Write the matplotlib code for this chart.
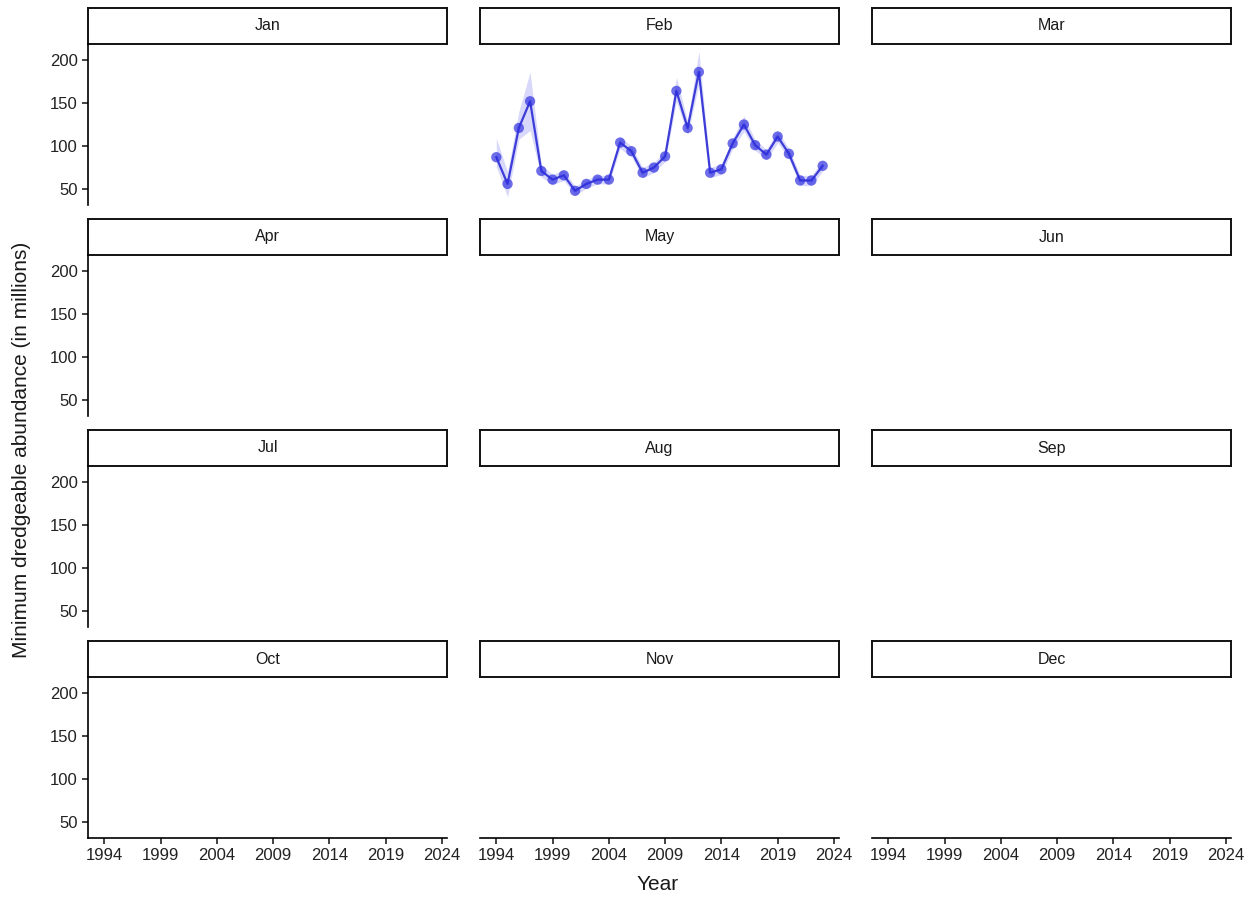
import matplotlib.pyplot as plt

plt.rcParams["font.family"] = ["Liberation Sans", "DejaVu Sans"]

# data (only February has observations)
months = ["Jan", "Feb", "Mar", "Apr", "May", "Jun",
          "Jul", "Aug", "Sep", "Oct", "Nov", "Dec"]
years = [1994, 1995, 1996, 1997, 1998, 1999, 2000, 2001, 2002, 2003,
         2004, 2005, 2006, 2007, 2008, 2009, 2010, 2011, 2012, 2013,
         2014, 2015, 2016, 2017, 2018, 2019, 2020, 2021, 2022, 2023]
feb_est = [87, 56, 121, 152, 71, 61, 66, 48, 56, 61,
           61, 104, 94, 69, 75, 88, 164, 121, 186, 69,
           73, 103, 125, 101, 90, 111, 91, 60, 60, 77]
feb_lo = [76, 41, 108, 118, 64, 55, 60, 43, 51, 56,
          56, 97, 88, 63, 69, 82, 152, 113, 172, 63,
          67, 97, 117, 95, 84, 104, 85, 54, 54, 71]
feb_hi = [109, 70, 140, 186, 78, 67, 72, 53, 61, 66,
          66, 111, 100, 75, 81, 94, 180, 129, 210, 75,
          79, 109, 135, 107, 96, 118, 97, 66, 66, 83]
x_breaks = [1994, 1999, 2004, 2009, 2014, 2019, 2024]
y_breaks = [50, 100, 150, 200]

W, H = 1260, 898
fig = plt.figure(figsize=(W / 100, H / 100), dpi=100)

def box(x, y, w, h):
    return [x / W, 1 - (y + h) / H, w / W, h / H]

col_x = [88, 480, 872]
row_y = [8, 219, 430, 641]
pw, sh, ph = 359, 36, 161
txt = "#222222"

for i, m in enumerate(months):
    r, c = divmod(i, 3)
    x0, y0 = col_x[c], row_y[r]

    # strip
    s = fig.add_axes(box(x0, y0, pw, sh))
    s.set_xticks([])
    s.set_yticks([])
    for sp in s.spines.values():
        sp.set_linewidth(1.4)
        sp.set_color("#111111")
    s.text(0.5, 0.5, m, ha="center", va="center", fontsize=11.5, color="#1a1a1a",
           transform=s.transAxes)

    # panel
    ax = fig.add_axes(box(x0, y0 + sh, pw, ph))
    ax.set_xlim(1992.55, 2024.45)
    ax.set_ylim(31.5, 218.5)
    ax.patch.set_alpha(0)
    for sp in ["top", "right"]:
        ax.spines[sp].set_visible(False)
    ax.tick_params(direction="out", length=4, width=1.1, colors="#111111",
                   labelcolor=txt, labelsize=12)

    if c == 0:
        ax.set_yticks(y_breaks)
        ax.spines["left"].set_linewidth(1.2)
    else:
        ax.spines["left"].set_visible(False)
        ax.set_yticks([])

    if r == 3:
        ax.set_xticks(x_breaks)
        ax.spines["bottom"].set_linewidth(1.2)
    else:
        ax.spines["bottom"].set_visible(False)
        ax.set_xticks([])

    if m == "Feb":
        ax.fill_between(years, feb_lo, feb_hi, color="#7474f2", alpha=0.28,
                        linewidth=0)
        ax.plot(years, feb_est, color="#3c3cd8", linewidth=1.6)
        ax.scatter(years, feb_est, s=55, color="#3030e0", alpha=0.7,
                   edgecolors="none", zorder=3)

fig.text(22 / W, 1 - 450 / H, "Minimum dredgeable abundance (in millions)",
         rotation=90, ha="center", va="center", fontsize=15, color="#1a1a1a")
fig.text(658 / W, 1 - 884 / H, "Year", ha="center", va="center",
         fontsize=15, color="#1a1a1a")

fig.savefig("out.png", dpi=100)
